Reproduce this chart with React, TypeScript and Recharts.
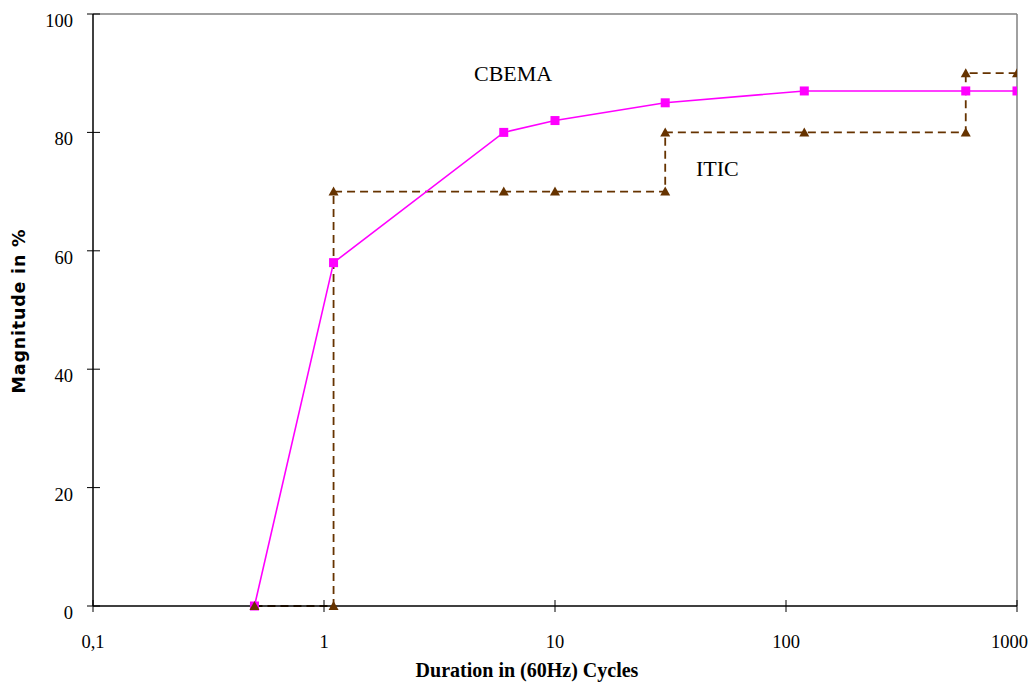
import { LineChart, Line, XAxis, YAxis, ReferenceLine, Customized } from "recharts";

// CBEMA curve (duration in cycles, magnitude %)
const cbemaX = [0.5, 1.1, 6, 10, 30, 120, 600, 1000];
const cbemaY = [0, 58, 80, 82, 85, 87, 87, 87];

// ITIC step curve
const iticX = [0.5, 1.1, 1.1, 6, 10, 30, 30, 120, 600, 600, 1000];
const iticY = [0, 0, 70, 70, 70, 70, 80, 80, 80, 90, 90];

const xTicks = [0.1, 1, 10, 100, 1000];
const yTicks = [0, 20, 40, 60, 80, 100];

const SERIF = '"Liberation Serif", "Times New Roman", serif';
const MAGENTA = "#FF00FF";
const BROWN = "#663300";

const cbema = cbemaX.map((x, i) => ({ x, y: cbemaY[i] }));
const itic = iticX.map((x, i) => ({ x, y: iticY[i] }));

const fmtX = (v: number) => (v < 1 ? String(v).replace(".", ",") : String(v));

const XTick = (props: any) => {
  const { x, y, payload } = props;
  const last = payload.value === xTicks[xTicks.length - 1];
  return (
    <g>
      <line x1={x} x2={x} y1={y - 6} y2={y + 6} stroke="#000" />
      <text
        x={last ? x + 11 : x}
        y={y + 42}
        textAnchor={last ? "end" : "middle"}
        fontFamily={SERIF}
        fontSize={18.5}
        fill="#000"
      >
        {fmtX(payload.value)}
      </text>
    </g>
  );
};

const YTick = (props: any) => {
  const { x, y, payload } = props;
  return (
    <g>
      <line x1={x - 6} x2={x + 7} y1={y} y2={y} stroke="#000" />
      <text x={x - 20} y={y + 13} textAnchor="end" fontFamily={SERIF} fontSize={18.5} fill="#000">
        {payload.value}
      </text>
    </g>
  );
};

const Square = (props: any) => {
  const { cx, cy, index } = props;
  if (cx == null || cy == null) return <g key={index} />;
  return <rect key={index} x={cx - 4.5} y={cy - 4.5} width={9} height={9} fill={MAGENTA} />;
};

const Tri = (props: any) => {
  const { cx, cy, index } = props;
  if (cx == null || cy == null) return <g key={index} />;
  return (
    <path key={index} d={`M${cx},${cy - 5} L${cx + 5},${cy + 4} L${cx - 5},${cy + 4} Z`} fill={BROWN} />
  );
};

const Texts = () => (
  <g>
    <text x={474} y={81} fontFamily={SERIF} fontSize={22} fill="#000">CBEMA</text>
    <text x={696} y={176} fontFamily={SERIF} fontSize={22} fill="#000">ITIC</text>
    <text x={527} y={677} textAnchor="middle" fontFamily={SERIF} fontSize={20} fontWeight="bold" fill="#000">
      Duration in (60Hz) Cycles
    </text>
    <text
      x={25}
      y={311}
      transform="rotate(-90, 25, 311)"
      textAnchor="middle"
      fontFamily='"DejaVu Sans", Verdana, sans-serif'
      fontSize={17.5}
      fontWeight="bold"
      letterSpacing={0.8}
      fill="#000"
    >
      Magnitude in %
    </text>
  </g>
);

export default function App() {
  return (
    <div style={{ position: "absolute", left: 0, top: 0, background: "#fff" }}>
      <LineChart width={1034} height={683} margin={{ top: 14, right: 17, left: 0, bottom: 0 }}>
        <XAxis
          dataKey="x"
          type="number"
          scale="log"
          domain={[0.1, 1000]}
          ticks={xTicks}
          allowDataOverflow
          height={77}
          tickSize={0}
          tickMargin={0}
          tickLine={false}
          axisLine={{ stroke: "#000", strokeWidth: 1.5 }}
          tick={<XTick />}
          interval={0}
        />
        <YAxis
          dataKey="y"
          type="number"
          domain={[0, 100]}
          ticks={yTicks}
          width={93}
          tickSize={0}
          tickMargin={0}
          tickLine={false}
          axisLine={{ stroke: "#000", strokeWidth: 1.5 }}
          tick={<YTick />}
          interval={0}
        />
        <ReferenceLine y={100} stroke="#808080" strokeWidth={1.5} />
        <ReferenceLine x={1000} stroke="#808080" strokeWidth={1.5} />
        <Line
          data={itic}
          dataKey="y"
          type="linear"
          stroke={BROWN}
          strokeWidth={1.8}
          strokeDasharray="8 5"
          dot={false}
          activeDot={false}
          isAnimationActive={false}
        />
        <Line
          data={cbema}
          dataKey="y"
          type="linear"
          stroke={MAGENTA}
          strokeWidth={1.6}
          dot={<Square />}
          activeDot={false}
          isAnimationActive={false}
        />
        <Line
          data={itic}
          dataKey="y"
          type="linear"
          stroke="none"
          dot={<Tri />}
          activeDot={false}
          isAnimationActive={false}
        />
        <Customized component={Texts} />
      </LineChart>
    </div>
  );
}
